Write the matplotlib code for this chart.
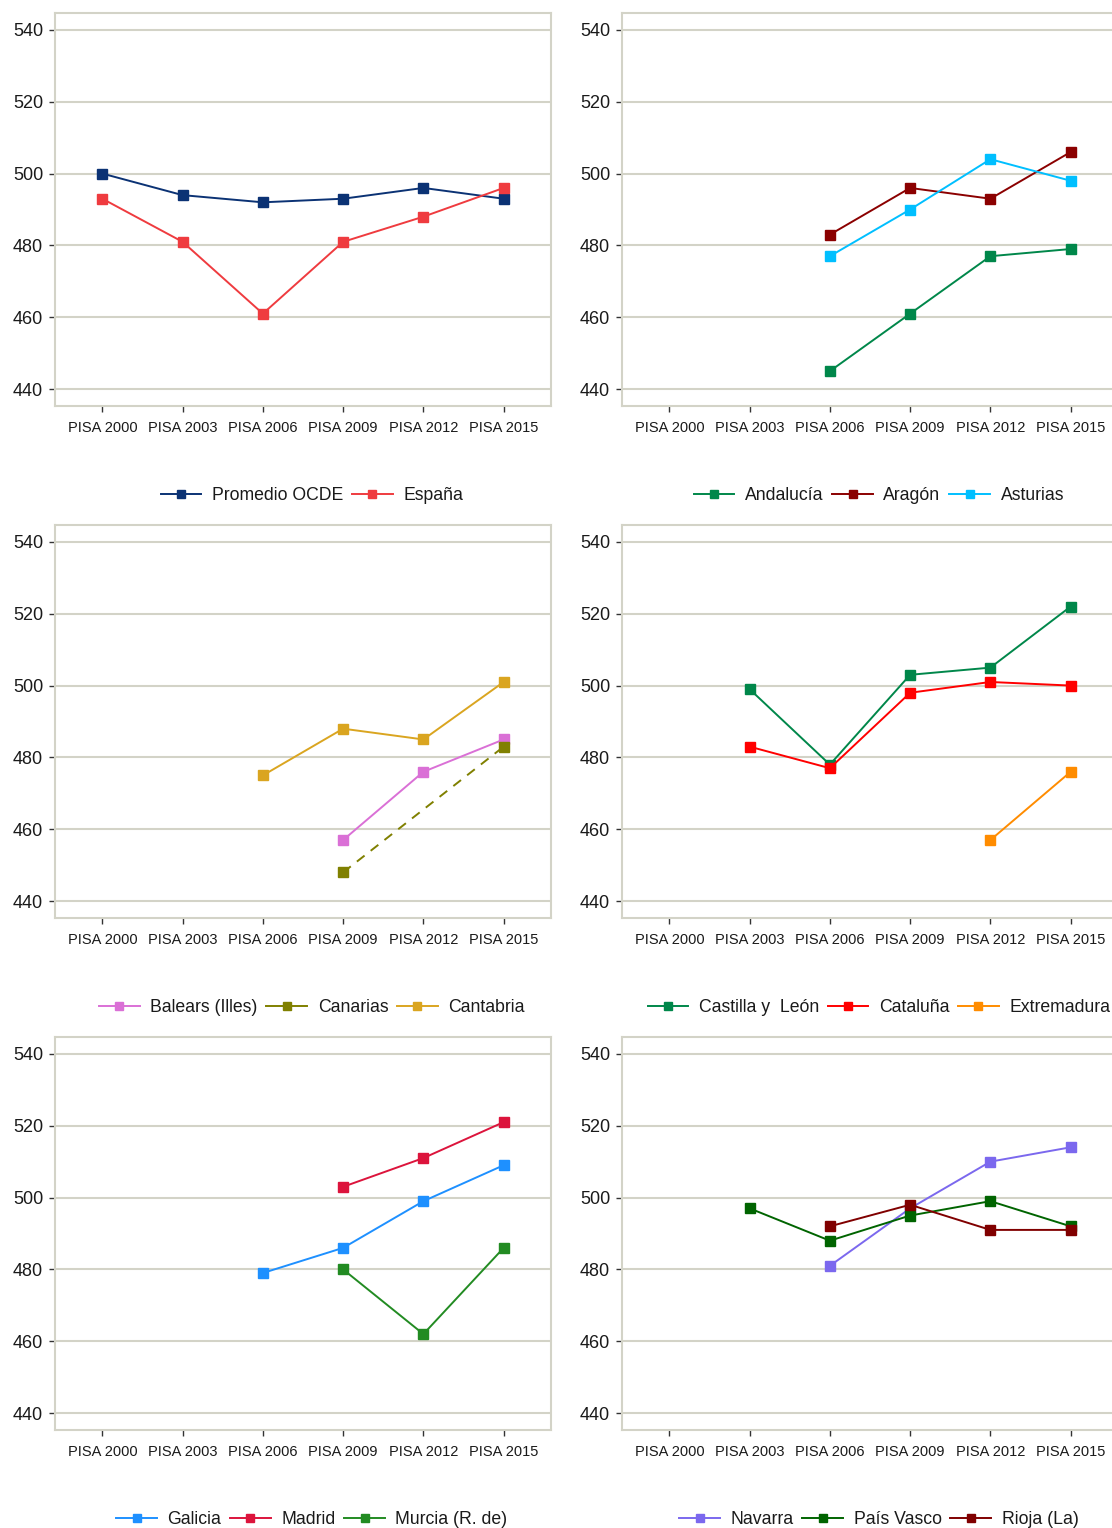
import matplotlib
matplotlib.use("Agg")
import matplotlib.pyplot as plt
import numpy as np

plt.rcParams['font.family'] = ['Liberation Sans', 'DejaVu Sans']

waves = ["PISA 2000", "PISA 2003", "PISA 2006", "PISA 2009", "PISA 2012", "PISA 2015"]
yticks = [440, 460, 480, 500, 520, 540]

# Series values per wave (None = missing)
ocde = [500, 494, 492, 493, 496, 493]
espana = [493, 481, 461, 481, 488, 496]

andalucia = [None, None, 445, 461, 477, 479]
aragon = [None, None, 483, 496, 493, 506]
asturias = [None, None, 477, 490, 504, 498]

balears = [None, None, None, 457, 476, 485]
canarias = [None, None, None, 448, None, 483]
cantabria = [None, None, 475, 488, 485, 501]

castilla_leon = [None, 499, 478, 503, 505, 522]
cataluna = [None, 483, 477, 498, 501, 500]
extremadura = [None, None, None, None, 457, 476]

galicia = [None, None, 479, 486, 499, 509]
madrid = [None, None, None, 503, 511, 521]
murcia = [None, None, None, 480, 462, 486]

navarra = [None, None, 481, 497, 510, 514]
pais_vasco = [None, 497, 488, 495, 499, 492]
rioja = [None, None, 492, 498, 491, 491]

panels = [
    [("Promedio OCDE", ocde, "#0b3274", False), ("España", espana, "#ef3b3f", False)],
    [("Andalucía", andalucia, "#00874a", False), ("Aragón", aragon, "#8b0000", False),
     ("Asturias", asturias, "#00bfff", False)],
    [("Balears (Illes)", balears, "#da70d6", False), ("Canarias", canarias, "#808000", True),
     ("Cantabria", cantabria, "#daa520", False)],
    [("Castilla y  León", castilla_leon, "#00874a", False), ("Cataluña", cataluna, "#ff0000", False),
     ("Extremadura", extremadura, "#ff8c00", False)],
    [("Galicia", galicia, "#1e90ff", False), ("Madrid", madrid, "#dc143c", False),
     ("Murcia (R. de)", murcia, "#228b22", False)],
    [("Navarra", navarra, "#7b68ee", False), ("País Vasco", pais_vasco, "#006400", False),
     ("Rioja (La)", rioja, "#800000", False)],
]

W, H = 1112, 1528
fig = plt.figure(figsize=(W / 100, H / 100), dpi=100)

grid_col = "#d3d3c7"
row_bottoms_px = [406, 918, 1430]
ax_h_px = 393
lefts_px = [55, 622]
ax_w_px = 496

for i, series in enumerate(panels):
    r, c = divmod(i, 2)
    left = lefts_px[c] / W
    bottom = (H - row_bottoms_px[r]) / H
    ax = fig.add_axes([left, bottom, ax_w_px / W, ax_h_px / H])
    x = np.arange(len(waves))
    handles = []
    for name, vals, col, dashed in series:
        xs = [xi for xi, v in zip(x, vals) if v is not None]
        ys = [v for v in vals if v is not None]
        if dashed:
            ax.plot(xs, ys, color=col, lw=1.4, ls=(0, (5, 4)), zorder=3)
            ax.plot(xs, ys, color=col, lw=0, marker='s', ms=7.8, zorder=4)
        else:
            ys2 = [np.nan if v is None else v for v in vals]
            ax.plot(x, ys2, color=col, lw=1.4, marker='s', ms=7.8, zorder=3)
        h, = ax.plot([], [], color=col, lw=1.4, marker='s', ms=5.5)
        h.set_label(name)
        handles.append(h)
    ax.set_xlim(-0.59, 5.59)
    ax.set_ylim(435.3, 544.7)
    ax.set_yticks(yticks)
    ax.set_xticks(x)
    ax.set_xticklabels(waves)
    ax.grid(axis='y', color=grid_col, lw=1.5, zorder=0)
    ax.set_axisbelow(True)
    for sp in ax.spines.values():
        sp.set_color(grid_col)
        sp.set_linewidth(1.5)
    ax.tick_params(axis='y', direction='out', length=4.5, width=1, color='#333333',
                   labelsize=13, labelcolor='#1a1a1a', pad=4)
    ax.tick_params(axis='x', direction='out', length=4.5, width=1, color='#333333',
                   labelsize=10.5, labelcolor='#1a1a1a', pad=6.5)
    leg = ax.legend(handles=handles, loc='center', bbox_to_anchor=(0.518, -0.228),
                    ncol=len(handles), frameon=False, fontsize=12.7, handlelength=2.3,
                    handletextpad=0.6, columnspacing=0.5)
    for t in leg.get_texts():
        t.set_color('#1a1a1a')

fig.savefig("out.png", dpi=100)
